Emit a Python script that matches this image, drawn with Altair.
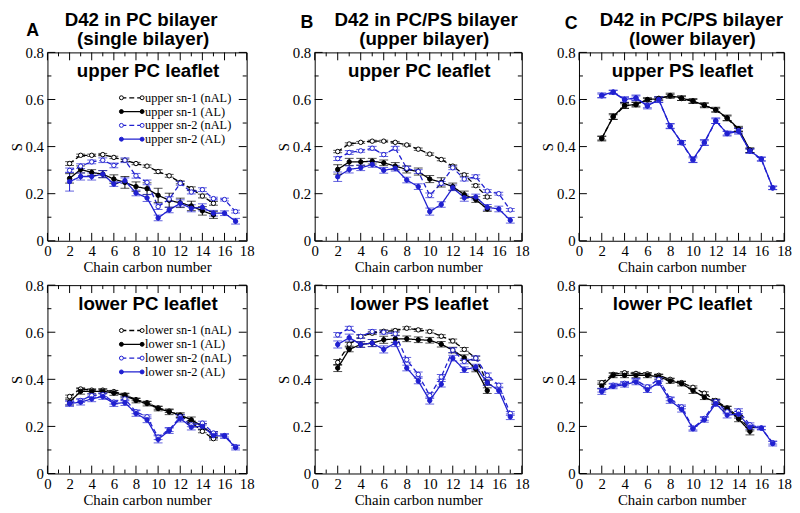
import altair as alt
import pandas as pd

# ---------------- data ----------------
X_SN1 = list(range(2, 16))
X_SN2 = list(range(2, 18))
X_MAJOR = [0, 2, 4, 6, 8, 10, 12, 14, 16, 18]
X_MINOR = [1, 3, 5, 7, 9, 11, 13, 15, 17]
Y_MAJOR = [0, 0.2, 0.4, 0.6, 0.8]
Y_MINOR = [0.1, 0.3, 0.5, 0.7]
SERIES = ["sn-1 (nAL)", "sn-1 (AL)", "sn-2 (nAL)", "sn-2 (AL)"]

# Panel A, upper PC leaflet
A_UP_SN1_NAL = [0.328, 0.363, 0.363, 0.366, 0.354, 0.342, 0.328, 0.317, 0.294, 0.276, 0.248, 0.221, 0.190, 0.159]
A_UP_SN1_AL = [0.265, 0.303, 0.290, 0.283, 0.262, 0.248, 0.230, 0.221, 0.193, 0.172, 0.161, 0.148, 0.127, 0.110]
A_UP_SN2_NAL = [0.299, 0.317, 0.335, 0.342, 0.320, 0.342, 0.276, 0.248, 0.145, 0.177, 0.244, 0.207, 0.217, 0.179, 0.175, 0.124]
A_UP_SN2_AL = [0.251, 0.273, 0.273, 0.283, 0.241, 0.255, 0.203, 0.182, 0.097, 0.131, 0.159, 0.138, 0.142, 0.117, 0.117, 0.083]
A_UP_SN1_NAL_ERR = [0.008, 0.005, 0.005, 0.005, 0.005, 0.005, 0.005, 0.005, 0.008, 0.006, 0.006, 0.008, 0.008, 0.008]
A_UP_SN1_AL_ERR = [0.020, 0.015, 0.012, 0.015, 0.018, 0.025, 0.020, 0.025, 0.030, 0.030, 0.020, 0.020, 0.018, 0.015]
A_UP_SN2_NAL_ERR = [0.010, 0.010, 0.008, 0.010, 0.010, 0.010, 0.010, 0.010, 0.012, 0.010, 0.008, 0.008, 0.008, 0.006, 0.006, 0.006]
A_UP_SN2_AL_ERR = [0.040, 0.015, 0.015, 0.015, 0.010, 0.012, 0.012, 0.015, 0.012, 0.012, 0.015, 0.015, 0.015, 0.012, 0.010, 0.012]

# Panel A, lower PC leaflet
A_LO_SN1_NAL = [0.327, 0.359, 0.354, 0.354, 0.348, 0.334, 0.314, 0.301, 0.279, 0.265, 0.246, 0.217, 0.179, 0.148]
A_LO_SN1_AL = [0.303, 0.349, 0.348, 0.349, 0.342, 0.331, 0.310, 0.297, 0.276, 0.262, 0.248, 0.228, 0.200, 0.166]
A_LO_SN2_NAL = [0.299, 0.310, 0.331, 0.335, 0.303, 0.317, 0.262, 0.241, 0.154, 0.186, 0.241, 0.207, 0.214, 0.172, 0.161, 0.114]
A_LO_SN2_AL = [0.297, 0.303, 0.317, 0.327, 0.297, 0.301, 0.255, 0.228, 0.145, 0.182, 0.234, 0.197, 0.200, 0.161, 0.159, 0.110]
A_LO_SN1_NAL_ERR = [0.006, 0.005, 0.005, 0.005, 0.005, 0.005, 0.005, 0.005, 0.006, 0.006, 0.006, 0.006, 0.006, 0.006]
A_LO_SN1_AL_ERR = [0.012, 0.012, 0.010, 0.010, 0.010, 0.010, 0.010, 0.010, 0.010, 0.012, 0.010, 0.012, 0.012, 0.012]
A_LO_SN2_NAL_ERR = [0.008, 0.008, 0.008, 0.008, 0.008, 0.008, 0.008, 0.008, 0.010, 0.008, 0.008, 0.008, 0.008, 0.006, 0.006, 0.006]
A_LO_SN2_AL_ERR = [0.012, 0.012, 0.012, 0.012, 0.012, 0.012, 0.012, 0.012, 0.015, 0.012, 0.015, 0.012, 0.012, 0.012, 0.010, 0.010]

# Panel B, upper PC leaflet
B_UP_SN1_NAL = [0.379, 0.411, 0.418, 0.423, 0.423, 0.418, 0.407, 0.389, 0.368, 0.345, 0.317, 0.280, 0.234, 0.186]
B_UP_SN1_AL = [0.303, 0.335, 0.335, 0.338, 0.331, 0.317, 0.303, 0.294, 0.262, 0.248, 0.230, 0.196, 0.175, 0.135]
B_UP_SN2_NAL = [0.349, 0.375, 0.382, 0.393, 0.366, 0.393, 0.308, 0.294, 0.193, 0.244, 0.310, 0.262, 0.272, 0.211, 0.200, 0.131]
B_UP_SN2_AL = [0.272, 0.303, 0.310, 0.324, 0.299, 0.308, 0.258, 0.230, 0.124, 0.154, 0.225, 0.183, 0.186, 0.142, 0.135, 0.087]
B_UP_SN1_NAL_ERR = [0.005, 0.005, 0.004, 0.004, 0.004, 0.004, 0.004, 0.005, 0.005, 0.005, 0.005, 0.006, 0.006, 0.006]
B_UP_SN1_AL_ERR = [0.020, 0.015, 0.015, 0.012, 0.012, 0.015, 0.015, 0.015, 0.015, 0.020, 0.015, 0.015, 0.012, 0.010]
B_UP_SN2_NAL_ERR = [0.008, 0.008, 0.006, 0.008, 0.008, 0.008, 0.008, 0.008, 0.010, 0.008, 0.008, 0.008, 0.008, 0.006, 0.006, 0.006]
B_UP_SN2_AL_ERR = [0.020, 0.015, 0.012, 0.012, 0.012, 0.012, 0.012, 0.012, 0.015, 0.012, 0.012, 0.015, 0.012, 0.012, 0.012, 0.012]

# Panel B, lower PS leaflet
B_LO_SN1_NAL = [0.472, 0.549, 0.582, 0.596, 0.604, 0.607, 0.617, 0.610, 0.603, 0.583, 0.563, 0.527, 0.490, 0.386]
B_LO_SN1_AL = [0.448, 0.527, 0.548, 0.554, 0.568, 0.572, 0.572, 0.568, 0.566, 0.549, 0.524, 0.492, 0.444, 0.352]
B_LO_SN2_NAL = [0.589, 0.617, 0.582, 0.603, 0.600, 0.593, 0.483, 0.421, 0.331, 0.410, 0.524, 0.476, 0.490, 0.417, 0.375, 0.255]
B_LO_SN2_AL = [0.548, 0.577, 0.548, 0.554, 0.527, 0.554, 0.448, 0.393, 0.310, 0.379, 0.490, 0.441, 0.452, 0.386, 0.352, 0.241]
B_LO_SN1_NAL_ERR = [0.012, 0.008, 0.006, 0.006, 0.006, 0.006, 0.006, 0.006, 0.006, 0.006, 0.008, 0.008, 0.008, 0.010]
B_LO_SN1_AL_ERR = [0.015, 0.010, 0.012, 0.015, 0.015, 0.015, 0.012, 0.012, 0.012, 0.012, 0.012, 0.012, 0.012, 0.012]
B_LO_SN2_NAL_ERR = [0.010, 0.008, 0.008, 0.008, 0.008, 0.008, 0.010, 0.010, 0.012, 0.010, 0.010, 0.010, 0.010, 0.010, 0.008, 0.008]
B_LO_SN2_AL_ERR = [0.015, 0.015, 0.012, 0.015, 0.015, 0.015, 0.012, 0.012, 0.015, 0.012, 0.012, 0.012, 0.012, 0.012, 0.012, 0.012]

# Panel C, upper PS leaflet
C_UP_SN1_NAL = [0.436, 0.525, 0.572, 0.580, 0.598, 0.605, 0.614, 0.604, 0.592, 0.577, 0.555, 0.520, 0.472, 0.383]
C_UP_SN1_AL = [0.434, 0.528, 0.575, 0.578, 0.600, 0.603, 0.617, 0.606, 0.594, 0.575, 0.557, 0.522, 0.476, 0.385]
C_UP_SN2_NAL = [0.615, 0.630, 0.598, 0.605, 0.575, 0.597, 0.488, 0.416, 0.342, 0.415, 0.508, 0.457, 0.468, 0.380, 0.346, 0.224]
C_UP_SN2_AL = [0.618, 0.632, 0.600, 0.607, 0.572, 0.600, 0.486, 0.418, 0.345, 0.418, 0.510, 0.455, 0.465, 0.382, 0.348, 0.225]
C_UP_SN1_NAL_ERR = [0.008, 0.010, 0.010, 0.008, 0.006, 0.006, 0.008, 0.008, 0.008, 0.008, 0.008, 0.010, 0.008, 0.008]
C_UP_SN1_AL_ERR = [0.010, 0.012, 0.012, 0.010, 0.008, 0.008, 0.010, 0.010, 0.010, 0.010, 0.010, 0.012, 0.010, 0.010]
C_UP_SN2_NAL_ERR = [0.008, 0.008, 0.010, 0.010, 0.010, 0.010, 0.010, 0.008, 0.010, 0.010, 0.010, 0.008, 0.010, 0.008, 0.008, 0.006]
C_UP_SN2_AL_ERR = [0.010, 0.008, 0.012, 0.012, 0.012, 0.012, 0.010, 0.008, 0.012, 0.012, 0.012, 0.010, 0.012, 0.010, 0.008, 0.008]

# Panel C, lower PC leaflet
C_LO_SN1_NAL = [0.386, 0.421, 0.428, 0.425, 0.423, 0.417, 0.400, 0.386, 0.366, 0.341, 0.310, 0.279, 0.241, 0.189]
C_LO_SN1_AL = [0.372, 0.417, 0.417, 0.417, 0.417, 0.411, 0.393, 0.382, 0.352, 0.324, 0.303, 0.276, 0.232, 0.179]
C_LO_SN2_NAL = [0.354, 0.375, 0.383, 0.396, 0.368, 0.400, 0.317, 0.283, 0.193, 0.234, 0.306, 0.262, 0.265, 0.207, 0.193, 0.131]
C_LO_SN2_AL = [0.348, 0.370, 0.377, 0.389, 0.356, 0.386, 0.310, 0.273, 0.190, 0.228, 0.297, 0.248, 0.252, 0.197, 0.193, 0.127]
C_LO_SN1_NAL_ERR = [0.008, 0.006, 0.005, 0.005, 0.005, 0.005, 0.005, 0.005, 0.006, 0.006, 0.006, 0.006, 0.006, 0.008]
C_LO_SN1_AL_ERR = [0.012, 0.010, 0.010, 0.010, 0.010, 0.010, 0.010, 0.010, 0.012, 0.010, 0.010, 0.010, 0.012, 0.015]
C_LO_SN2_NAL_ERR = [0.008, 0.008, 0.008, 0.008, 0.008, 0.008, 0.008, 0.008, 0.008, 0.008, 0.008, 0.008, 0.010, 0.008, 0.006, 0.006]
C_LO_SN2_AL_ERR = [0.012, 0.010, 0.010, 0.012, 0.012, 0.012, 0.012, 0.012, 0.010, 0.010, 0.012, 0.012, 0.012, 0.010, 0.008, 0.010]

# ---------------- style ----------------
SANS = "Liberation Sans"
SERIF = "Liberation Serif"
BLACK = "#000000"
BLUE = "#2020d0"
H = 191
STROKES = [BLACK, BLACK, BLUE, BLUE]
FILLS = ["#ffffff", BLACK, "#ffffff", BLUE]
DASHES = [[5, 3], [1, 0], [5, 3], [1, 0]]

AX_COMMON = dict(labelFont=SERIF, titleFont=SERIF, labelFontSize=15, titleFontSize=15,
                 titleFontWeight="normal", labelColor="black", titleColor="black",
                 grid=False, ticks=False, domain=False, labelFlush=False, labelOverlap=False)
AX_X = alt.Axis(values=X_MAJOR, format="d", title="Chain carbon number",
                labelPadding=3, titlePadding=1, **AX_COMMON)
AX_Y = alt.Axis(values=Y_MAJOR, format=".1~f", title="S",
                labelPadding=4, titlePadding=1, **AX_COMMON)
XSC = alt.Scale(domain=[0, 18], nice=False, zero=False)
YSC = alt.Scale(domain=[0, 0.8], nice=False, zero=False)


def X(f):
    return alt.X(f"{f}:Q", scale=XSC, axis=AX_X)


def Y(f):
    return alt.Y(f"{f}:Q", scale=YSC, axis=AX_Y)


def make_panel(vals, errs, label, width, legend_word=None, title=None,
               title_x=(0, 0), letter=None, letter_pos=(0, 0)):
    rows = []
    for k, name in enumerate(SERIES):
        xs = X_SN1 if k < 2 else X_SN2
        for x, v, e in zip(xs, vals[k], errs[k]):
            rows.append(dict(c=x, s=v, lo=v - e, hi=v + e, series=name))
    df = pd.DataFrame(rows)

    color = alt.Color("series:N", scale=alt.Scale(domain=SERIES, range=STROKES), legend=None)
    stroke = alt.Stroke("series:N", scale=alt.Scale(domain=SERIES, range=STROKES), legend=None)
    fill = alt.Fill("series:N", scale=alt.Scale(domain=SERIES, range=FILLS), legend=None)
    dash = alt.StrokeDash("series:N", scale=alt.Scale(domain=SERIES, range=DASHES), legend=None)

    base = alt.Chart(df)
    lines = base.mark_line(strokeWidth=1.3).encode(x=X("c"), y=Y("s"), color=color, strokeDash=dash)
    err = base.mark_rule(strokeWidth=1).encode(x=X("c"), y=Y("lo"), y2="hi:Q", color=color)
    cap_lo = base.mark_tick(orient="horizontal", size=9, thickness=1).encode(
        x=X("c"), y=Y("lo"), color=color)
    cap_hi = base.mark_tick(orient="horizontal", size=9, thickness=1).encode(
        x=X("c"), y=Y("hi"), color=color)
    pts = base.mark_point(shape="circle", size=20, strokeWidth=1, filled=False,
                          opacity=1, fillOpacity=1).encode(
        x=X("c"), y=Y("s"), stroke=stroke, fill=fill)

    layers = [lines, err, cap_lo, cap_hi, pts]

    # inward frame ticks
    for tv, L in ((X_MAJOR, 8), (X_MINOR, 4)):
        d = alt.Chart(pd.DataFrame({"t": tv}))
        layers.append(d.mark_rule(color="black", strokeWidth=1).encode(x=X("t"), y=alt.value(H), y2=alt.value(H - L)))
        layers.append(d.mark_rule(color="black", strokeWidth=1).encode(x=X("t"), y=alt.value(0), y2=alt.value(L)))
    for tv, L in ((Y_MAJOR, 8), (Y_MINOR, 4)):
        d = alt.Chart(pd.DataFrame({"t": tv}))
        layers.append(d.mark_rule(color="black", strokeWidth=1).encode(y=Y("t"), x=alt.value(0), x2=alt.value(L)))
        layers.append(d.mark_rule(color="black", strokeWidth=1).encode(y=Y("t"), x=alt.value(width), x2=alt.value(width - L)))

    # leaflet label
    layers.append(alt.Chart(pd.DataFrame({"t": [label]})).mark_text(
        font=SANS, fontSize=19, fontWeight="bold", align="center", baseline="middle", color="black"
    ).encode(text="t:N", x=alt.value(width / 2 + 1), y=alt.value(19)))

    if title:
        for i, line in enumerate(title):
            layers.append(alt.Chart(pd.DataFrame({"t": [line]})).mark_text(
                font=SANS, fontSize=19, fontWeight="bold", align="center", baseline="middle",
                color="black"
            ).encode(text="t:N", x=alt.value(title_x[i]), y=alt.value(-33 + 19.5 * i)))
    if letter:
        layers.append(alt.Chart(pd.DataFrame({"t": [letter]})).mark_text(
            font=SANS, fontSize=18, fontWeight="bold", align="center", baseline="middle", color="black"
        ).encode(text="t:N", x=alt.value(letter_pos[0]), y=alt.value(letter_pos[1])))

    if legend_word:
        # legend placed in pixel terms, converted into data units of the panel
        lx1, lx2, lxt = 75, 96, 99
        lrows = []
        for i, name in enumerate(SERIES):
            py = 46 + i * 14
            lrows.append(dict(series=name, txt=f"{legend_word} {name}",
                              a=lx1 / width * 18, b=lx2 / width * 18, t=lxt / width * 18,
                              ly=(H - py) / H * 0.8))
        ld = alt.Chart(pd.DataFrame(lrows))
        layers.append(ld.mark_rule(strokeWidth=1.3).encode(
            x=X("a"), x2="b:Q", y=Y("ly"), color=color, strokeDash=dash))
        for fld in ("a", "b"):
            layers.append(ld.mark_point(shape="circle", size=16, strokeWidth=1, filled=False,
                                        opacity=1, fillOpacity=1).encode(
                x=X(fld), y=Y("ly"), stroke=stroke, fill=fill))
        layers.append(ld.mark_text(font=SERIF, fontSize=12.5, align="left", baseline="middle",
                                   color="black").encode(x=X("t"), y=Y("ly"), text="txt:N"))

    return alt.layer(*layers).properties(width=width, height=H)


W_A, W_B, W_C = 202, 210, 208

A_up = make_panel([A_UP_SN1_NAL, A_UP_SN1_AL, A_UP_SN2_NAL, A_UP_SN2_AL],
                  [A_UP_SN1_NAL_ERR, A_UP_SN1_AL_ERR, A_UP_SN2_NAL_ERR, A_UP_SN2_AL_ERR],
                  "upper PC leaflet", W_A, legend_word="upper",
                  title=["D42 in PC bilayer", "(single bilayer)"], title_x=(95, 97),
                  letter="A", letter_pos=(-15, -22))
A_lo = make_panel([A_LO_SN1_NAL, A_LO_SN1_AL, A_LO_SN2_NAL, A_LO_SN2_AL],
                  [A_LO_SN1_NAL_ERR, A_LO_SN1_AL_ERR, A_LO_SN2_NAL_ERR, A_LO_SN2_AL_ERR],
                  "lower PC leaflet", W_A, legend_word="lower")
B_up = make_panel([B_UP_SN1_NAL, B_UP_SN1_AL, B_UP_SN2_NAL, B_UP_SN2_AL],
                  [B_UP_SN1_NAL_ERR, B_UP_SN1_AL_ERR, B_UP_SN2_NAL_ERR, B_UP_SN2_AL_ERR],
                  "upper PC leaflet", W_B,
                  title=["D42 in PC/PS bilayer", "(upper bilayer)"], title_x=(113, 111),
                  letter="B", letter_pos=(-8, -30))
B_lo = make_panel([B_LO_SN1_NAL, B_LO_SN1_AL, B_LO_SN2_NAL, B_LO_SN2_AL],
                  [B_LO_SN1_NAL_ERR, B_LO_SN1_AL_ERR, B_LO_SN2_NAL_ERR, B_LO_SN2_AL_ERR],
                  "lower PS leaflet", W_B)
C_up = make_panel([C_UP_SN1_NAL, C_UP_SN1_AL, C_UP_SN2_NAL, C_UP_SN2_AL],
                  [C_UP_SN1_NAL_ERR, C_UP_SN1_AL_ERR, C_UP_SN2_NAL_ERR, C_UP_SN2_AL_ERR],
                  "upper PS leaflet", W_C,
                  title=["D42 in PC/PS bilayer", "(lower bilayer)"], title_x=(114, 115),
                  letter="C", letter_pos=(-8, -29))
C_lo = make_panel([C_LO_SN1_NAL, C_LO_SN1_AL, C_LO_SN2_NAL, C_LO_SN2_AL],
                  [C_LO_SN1_NAL_ERR, C_LO_SN1_AL_ERR, C_LO_SN2_NAL_ERR, C_LO_SN2_AL_ERR],
                  "lower PC leaflet", W_C)

colA = alt.vconcat(A_up, A_lo, spacing=2)
colB = alt.vconcat(B_up, B_lo, spacing=2)
colC = alt.vconcat(C_up, C_lo, spacing=2)

chart = alt.hconcat(alt.hconcat(colA, colB, spacing=21), colC, spacing=10).properties(
    padding={"left": 0, "top": -1.5, "right": 0, "bottom": 0}
).configure(background="white").configure_view(stroke="black", strokeWidth=1)

chart.save("out.html", embed_options={"renderer": "svg", "actions": False})
